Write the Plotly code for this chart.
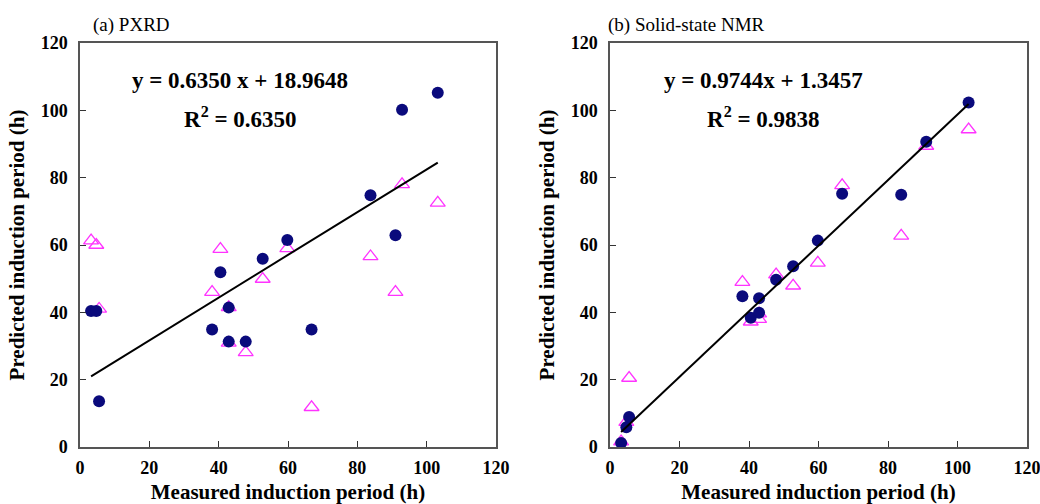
import plotly.graph_objects as go

# ---------------- data ----------------
measured_a = [3.2, 4.7, 5.5, 38.1, 40.5, 42.9, 42.9, 47.8, 52.7, 59.8, 66.8, 83.8, 91.0, 92.9, 103.2]
pxrd_circle = [40.4, 40.4, 13.6, 34.9, 51.9, 41.4, 31.3, 31.3, 55.9, 61.5, 34.9, 74.8, 62.9, 100.2, 105.2]
pxrd_triangle = [61.3, 60.0, 41.0, 46.0, 58.8, 41.5, 30.9, 28.1, 49.9, 59.0, 11.8, 56.6, 46.0, 78.0, 72.5]

measured_b = [3.2, 4.7, 5.5, 38.1, 40.5, 42.9, 42.9, 47.8, 52.7, 59.8, 66.8, 83.8, 91.0, 103.2]
nmr_circle = [1.2, 5.9, 8.9, 44.8, 38.4, 44.2, 39.9, 49.7, 53.7, 61.3, 75.2, 74.9, 90.7, 102.3]
nmr_triangle = [1.6, 7.4, 20.5, 49.0, 37.2, 39.6, 38.0, 51.2, 47.9, 54.7, 77.7, 62.7, 89.4, 94.3]

fit_a = (0.6350, 18.9648)
fit_b = (0.9744, 1.3457)

ticks = [0, 20, 40, 60, 80, 100, 120]

NAVY = "#0a0a7c"
MAG = "#ff33ff"
FONT = "Liberation Serif"

fig = go.Figure()


def add_panel(xs, circ, tri, fit, xa, ya):
    fig.add_trace(go.Scatter(x=xs, y=tri, mode="markers", xaxis=xa, yaxis=ya,
                             marker=dict(symbol="triangle-up-open", size=13, color=MAG,
                                         line=dict(width=1.3, color=MAG)),
                             showlegend=False))
    fig.add_trace(go.Scatter(x=xs, y=circ, mode="markers", xaxis=xa, yaxis=ya,
                             marker=dict(symbol="circle", size=12, color=NAVY,
                                         line=dict(width=0)),
                             showlegend=False))
    x0, x1 = min(xs), max(xs)
    m, c = fit
    fig.add_trace(go.Scatter(x=[x0, x1], y=[m * x0 + c, m * x1 + c], mode="lines",
                             xaxis=xa, yaxis=ya, line=dict(color="black", width=2),
                             showlegend=False))


add_panel(measured_a, pxrd_circle, pxrd_triangle, fit_a, "x", "y")
add_panel(measured_b, nmr_circle, nmr_triangle, fit_b, "x2", "y2")

ax_common = dict(range=[0, 120], tickvals=ticks, ticks="inside", ticklen=6, tickwidth=1.2,
                 tickcolor="#333", showline=True, linecolor="#555", linewidth=1.5,
                 mirror=True, showgrid=False, zeroline=False, automargin=False,
                 ticklabeloverflow="allow",
                 tickfont=dict(family=FONT, size=18, color="black", weight="bold"))

title_ax_font = dict(family=FONT, size=21, color="black", weight="bold")
ydom = [1 - 447 / 504, 1 - 43 / 504]
fig.update_layout(
    template="none",
    width=1040, height=504,
    margin=dict(l=0, r=0, t=0, b=0, autoexpand=False),
    paper_bgcolor="white", plot_bgcolor="white",
    xaxis=dict(domain=[80 / 1040, 496 / 1040], anchor="y", ticklabelstandoff=4,
               title=dict(text="Measured induction period (h)", standoff=7, font=title_ax_font),
               **ax_common),
    yaxis=dict(domain=ydom, anchor="x", ticklabelstandoff=7,
               title=dict(text="Predicted induction period (h)", standoff=10, font=title_ax_font),
               **ax_common),
    xaxis2=dict(domain=[610 / 1040, 1027 / 1040], anchor="y2", ticklabelstandoff=4,
                title=dict(text="Measured induction period (h)", standoff=7, font=title_ax_font),
                **ax_common),
    yaxis2=dict(domain=ydom, anchor="x2", ticklabelstandoff=7,
                title=dict(text="Predicted induction period (h)", standoff=10, font=title_ax_font),
                **ax_common),
)

eq_font = dict(family=FONT, size=23, color="black", weight="bold")
fig.add_annotation(x=46.2, y=109, xref="x", yref="y", showarrow=False,
                   text="y = 0.6350 x + 18.9648", font=eq_font)
fig.add_annotation(x=46.2, y=98, xref="x", yref="y", showarrow=False,
                   text="R<sup>2</sup> = 0.6350", font=eq_font)
fig.add_annotation(x=44.1, y=109, xref="x2", yref="y2", showarrow=False,
                   text="y = 0.9744x + 1.3457", font=eq_font)
fig.add_annotation(x=44.1, y=98, xref="x2", yref="y2", showarrow=False,
                   text="R<sup>2</sup> = 0.9838", font=eq_font)

title_font = dict(family=FONT, size=19, color="black")
fig.add_annotation(x=91 / 1040, y=1 - 25 / 504, xref="paper", yref="paper", showarrow=False,
                   xanchor="left", yanchor="middle", text="(a) PXRD", font=title_font)
fig.add_annotation(x=606 / 1040, y=1 - 25 / 504, xref="paper", yref="paper", showarrow=False,
                   xanchor="left", yanchor="middle", text="(b) Solid-state NMR", font=title_font)

fig.write_html(
    "out.html",
    config={"displayModeBar": False},
    post_script="document.body.style.margin='0';document.body.style.overflow='hidden';",
)
